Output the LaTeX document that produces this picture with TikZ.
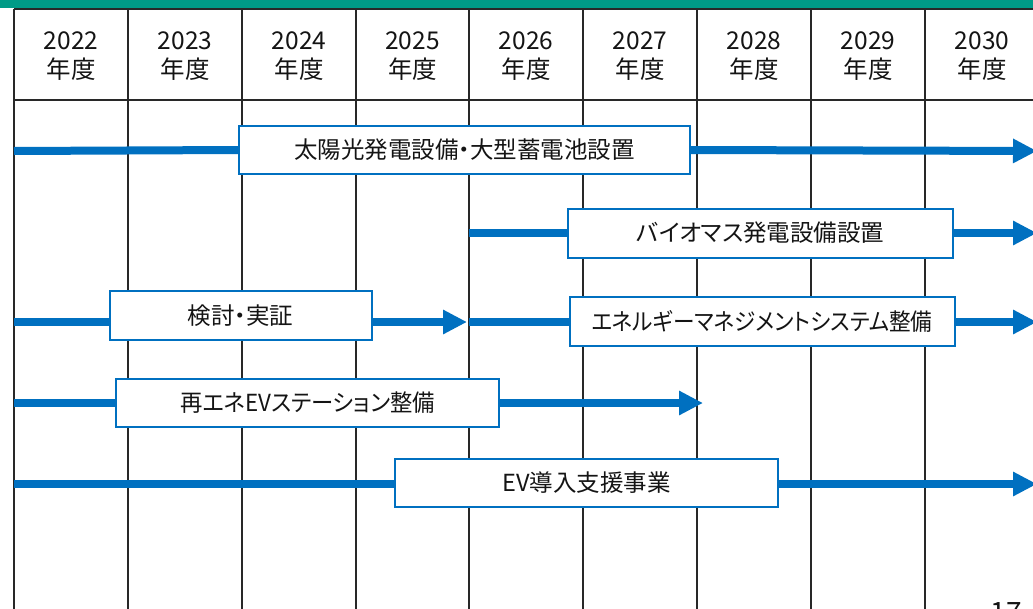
\documentclass[tikz,border=0pt]{standalone}
\usepackage{fontspec}
\newfontfamily\jp[RawFeature=+palt]{Noto Sans CJK JP}
\usetikzlibrary{arrows.meta}
\definecolor{topgreen}{RGB}{0,155,135}
\definecolor{barblue}{RGB}{0,112,192}
\definecolor{gridc}{RGB}{40,40,40}
\definecolor{txt}{RGB}{20,20,20}
\begin{document}
\begin{tikzpicture}[x=1pt,y=-1pt,
  gridline/.style={line width=1.2pt,draw=gridc},
  bar/.style={line width=8pt,draw=barblue},
  bararrow/.style={bar,-{Triangle[length=24pt,width=23pt]}},
  taskbox/.style={draw=barblue,line width=2pt,fill=white,inner sep=0pt,
    font=\jp\fontsize{23.5}{27}\selectfont,text=txt},
  yearlbl/.style={font=\jp\fontsize{24.5}{29}\selectfont,text=txt,align=center,inner sep=0pt}]
\useasboundingbox (0,0) rectangle (1033,608);
\begin{scope}
\clip (0,0) rectangle (1033,608);
\fill[topgreen] (0,0) rectangle (1033,8);
% grid
\draw[gridline] (14,9) -- (1040,9);
\draw[gridline] (14,100) -- (1040,100);
\foreach \x in {14,128,242,356,469,583,697,811,925}{
  \draw[gridline] (\x,9) -- (\x,610);
}
% header labels
\foreach \x/\yr [count=\i] in {71/2022,185/2023,299/2024,412.5/2025,526/2026,640/2027,754/2028,868/2029,982/2030}{
  \node[yearlbl] (yr\i) at (\x,56) {\yr\\年度};
}
% task boxes
\node[taskbox,minimum width=451pt,minimum height=48pt] (solar) at (464.5,150) {太陽光発電設備・大型蓄電池設置};
\node[taskbox,minimum width=385pt,minimum height=49pt] (bio) at (760.5,233) {バイオマス発電設備設置};
\node[taskbox,minimum width=262pt,minimum height=49pt] (kentou) at (240.5,315.5) {検討・実証};
\node[taskbox,minimum width=385pt,minimum height=49pt] (ems) at (762,321.5) {\scalebox{0.92}[1]{エネルギーマネジメントシステム整備}};
\node[taskbox,minimum width=383pt,minimum height=48pt] (evst) at (307.5,403) {\scalebox{0.95}[1]{再エネEVステーション整備}};
\node[taskbox,minimum width=383pt,minimum height=48pt] (evsup) at (586.5,483) {EV導入支援事業};
% connector end points
\coordinate (s1) at (14,151);   \coordinate (e1) at (1037,151);
\coordinate (s2) at (469,233);  \coordinate (e2) at (1037,233);
\coordinate (s3) at (14,322);   \coordinate (e3) at (467,322);
\coordinate (s4) at (469,322);  \coordinate (e4) at (1037,322);
\coordinate (s5) at (14,403);   \coordinate (e5) at (703,403);
\coordinate (s6) at (14,484);   \coordinate (e6) at (1037,484);
% connectors
\draw[bar] (s1) -- (solar.west);
\draw[bararrow] (solar.east) -- (e1);
\draw[bar] (s2) -- (bio.west);
\draw[bararrow] (bio.east) -- (e2);
\draw[bar] (s3) -- (s3 -| kentou.west);
\draw[bararrow] (e3 -| kentou.east) -- (e3);
\draw[bar] (s4) -- (s4 -| ems.west);
\draw[bararrow] (s4 -| ems.east) -- (e4);
\draw[bar] (s5) -- (evst.west);
\draw[bararrow] (evst.east) -- (e5);
\draw[bar] (s6) -- (s6 -| evsup.west);
\draw[bararrow] (s6 -| evsup.east) -- (e6);
% page number (cut off at the bottom edge, as in the reference)
\node[font=\jp\fontsize{28}{30}\selectfont,text=txt,inner sep=0pt] (pg) at (1006,613) {17};
\end{scope}
\end{tikzpicture}
\end{document}
